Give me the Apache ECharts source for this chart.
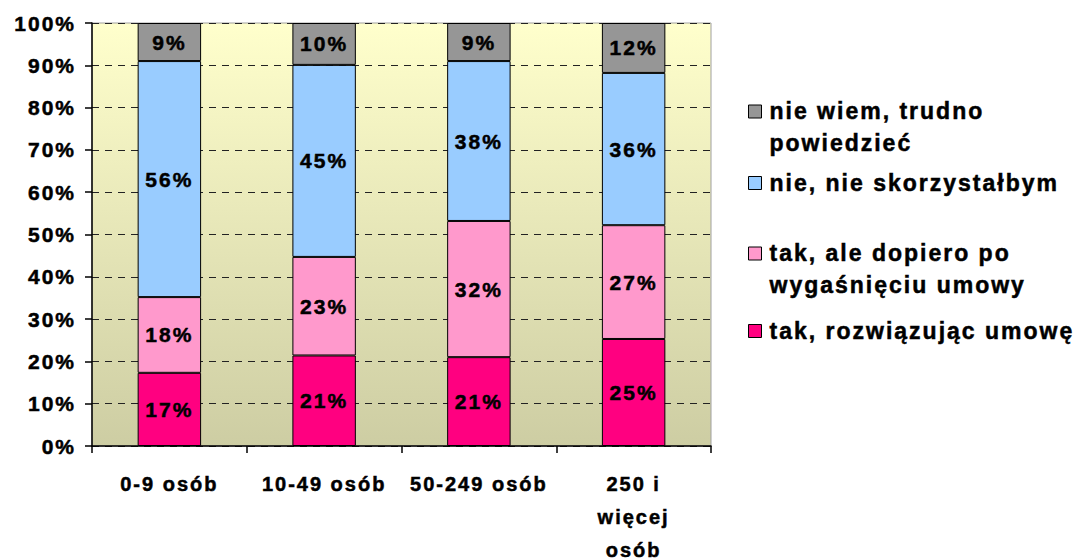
<!DOCTYPE html>
<html>
<head>
<meta charset="utf-8">
<script src="https://cdn.jsdelivr.net/npm/echarts@6/dist/echarts.min.js"></script>
<style>
  html, body { margin: 0; padding: 0; background: #fff; }
  #chart { width: 1073px; height: 559px; }
  /* wide, spaced-out bold lettering */
  #chart svg text { letter-spacing: 2px; }
</style>
</head>
<body>
<div id="chart"></div>
<script>
// Company size groups
const categories = ['0-9 osób', '10-49 osób', '50-249 osób', '250 i\nwięcej\nosób'];

// Answer shares (%) per size group, bottom to top of each stack
const takRozwiazujac = [17.3, 21.4, 21.0, 25.3];
const takPoWygasnieciu = [17.9, 23.3, 32.2, 26.9];
const nieSkorzystalbym = [55.8, 45.4, 37.8, 36.0];
const nieWiem = [9.0, 9.9, 9.0, 11.8];

const yTicks = [0, 10, 20, 30, 40, 50, 60, 70, 80, 90, 100];

const seriesNames = [
  'tak, rozwiązując umowę',
  'tak, ale dopiero po\nwygaśnięciu umowy',
  'nie, nie skorzystałbym',
  'nie wiem, trudno\npowiedzieć'
];
const seriesColors = ['#FF0080', '#FF99CC', '#99CCFF', '#969696'];
const seriesData = [takRozwiazujac, takPoWygasnieciu, nieSkorzystalbym, nieWiem];

const FONT = '"Liberation Sans", Arial, sans-serif';
// thin outline in the text colour to give the heavy bold look
const HEAVY = { textBorderColor: '#000', textBorderWidth: 0.5 };

const chart = echarts.init(document.getElementById('chart'), null, { renderer: 'svg' });

const series = seriesData.map((d, i) => ({
  name: seriesNames[i],
  type: 'bar',
  stack: 'total',
  barWidth: '41%',
  data: d,
  itemStyle: { color: seriesColors[i], borderColor: '#000', borderWidth: 1 },
  label: Object.assign({
    show: true,
    position: 'inside',
    formatter: p => Math.round(p.value) + '%',
    color: '#000',
    fontFamily: FONT,
    fontWeight: 'bold',
    fontSize: 21
  }, HEAVY)
}));

// Square key for one-line entries; for two-line entries the square sits
// at the top of a taller box so it lines up with the first text line.
const squareIcon = 'path://M0,0H13V13H0Z';
const tallIcon = 'path://M0,0H13V13H0ZM0,44';

// One legend block per entry so each can sit at its own height
const legendEntries = [
  { series: 3, top: 90, icon: tallIcon, h: 44 },
  { series: 2, top: 162, icon: squareIcon, h: 13 },
  { series: 1, top: 232, icon: tallIcon, h: 44 },
  { series: 0, top: 310, icon: squareIcon, h: 13 }
];
const legends = legendEntries.map(e => ({
  data: [seriesNames[e.series]],
  left: 743,
  top: e.top,
  orient: 'vertical',
  icon: e.icon,
  itemWidth: 13,
  itemHeight: e.h,
  itemGap: 0,
  selectedMode: false,
  itemStyle: { borderColor: '#000', borderWidth: 1 },
  textStyle: Object.assign({
    fontFamily: FONT,
    fontWeight: 'bold',
    fontSize: 23,
    color: '#000',
    lineHeight: 32,
    padding: [0, 0, 0, 3]
  }, HEAVY)
}));

chart.setOption({
  animation: false,
  legend: legends,
  grid: {
    left: 92,
    right: 362,
    top: 23,
    bottom: 113,
    outerBoundsMode: 'none',
    show: true,
    borderColor: '#A0A0A0',
    borderWidth: 1,
    backgroundColor: new echarts.graphic.LinearGradient(0, 0, 0, 1, [
      { offset: 0, color: '#FFFFCC' },
      { offset: 1, color: '#CDCDA3' }
    ])
  },
  xAxis: {
    type: 'category',
    data: categories,
    axisLine: { show: true, lineStyle: { color: '#000', width: 1.5 } },
    axisTick: { show: true, alignWithLabel: false, length: 7, lineStyle: { color: '#000', width: 1.5 } },
    axisLabel: Object.assign({
      interval: 0,
      margin: 21,
      color: '#000',
      fontFamily: FONT,
      fontWeight: 'bold',
      fontSize: 20,
      lineHeight: 33,
      verticalAlign: 'top'
    }, HEAVY)
  },
  yAxis: {
    type: 'value',
    min: 0,
    max: 100,
    interval: 10,
    axisLine: { show: true, lineStyle: { color: '#000', width: 1.5 } },
    axisTick: { show: true, length: 7, lineStyle: { color: '#000', width: 1.5 } },
    axisLabel: Object.assign({
      margin: 16,
      color: '#000',
      fontFamily: FONT,
      fontWeight: 'bold',
      fontSize: 21,
      formatter: v => (yTicks.includes(v) ? v + '%' : '')
    }, HEAVY),
    splitLine: {
      show: true,
      lineStyle: { color: '#222', width: 1, type: [7, 6] }
    }
  },
  series: series
});
</script>
</body>
</html>
